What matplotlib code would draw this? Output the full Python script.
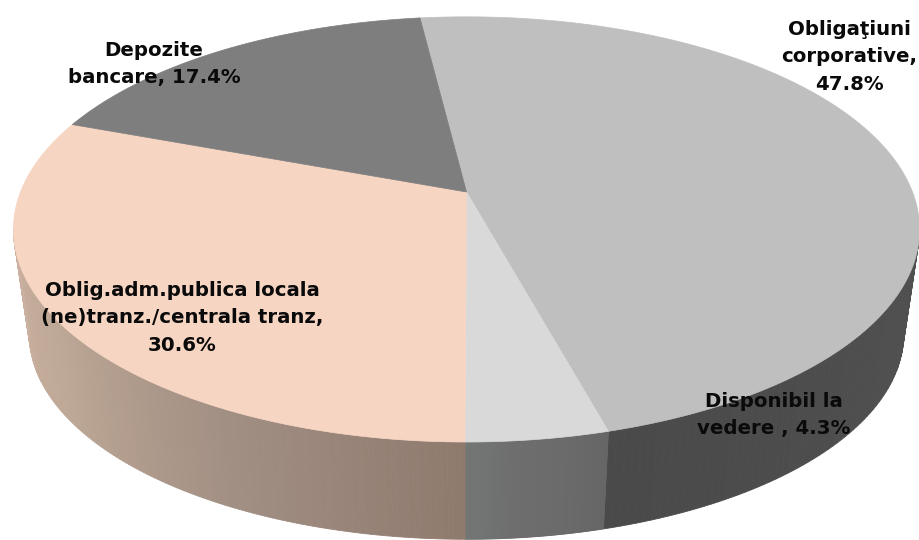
# 3D-look pie: top face is a circle pushed through a small perspective, wall is shaded strips
import numpy as np
import matplotlib
matplotlib.use("Agg")
import matplotlib.pyplot as plt
from matplotlib.colors import LinearSegmentedColormap

categories = ["Obligaţiuni\ncorporative,\n47.8%", "Disponibil la\nvedere , 4.3%",
              "Oblig.adm.publica locala\n(ne)tranz./centrala tranz,\n30.6%", "Depozite\nbancare, 17.4%"]
shares = [47.8, 4.3, 30.6, 17.4]
top_colors = ["#bfbfbf", "#d9d9d9", "#f7d5c3", "#7e7e7e"]
wall_colors = [["#4f4f4f", "#4d4d4d", "#505050", "#4a4a4a"],
               ["#666666", "#6b6b6b", "#6e6e6e", "#747676"],
               ["#8f7a6e", "#a39084", "#bda795", "#cdb2a2", "#c4a898"],
               ["#7e7e7e", "#7e7e7e"]]
label_xy = [(849, 57), (774, 415), (182, 318), (154, 64)]

# picture geometry, in pixels
CX, CY = 466.5, 192
A, B, K = 446, 206, 0.176   # K: rear of the disc is foreshortened
SCALE_LOW, DROP = 0.965, 106  # bottom rim of the wall
START = np.radians(90 + 7.4)  # first wedge starts just left of straight up


def rim(t):
    w = 1 + K * np.sin(t)
    return A * np.cos(t) / w, -B * np.sin(t) / w


fig = plt.figure(figsize=(9.19, 5.40), dpi=100)
ax = fig.add_axes([0, 0, 1, 1])
ax.set_xlim(0, 919); ax.set_ylim(540, 0); ax.axis("off")

edges = START - np.radians(np.cumsum([0] + shares) * 3.6)
for i in range(len(shares)):
    t = np.linspace(edges[i], edges[i + 1], 181)
    x, y = rim(t)
    cmap = LinearSegmentedColormap.from_list("wall", wall_colors[i])
    for j in range(len(t) - 1):
        if np.sin(t[j]) > -K and np.sin(t[j + 1]) > -K:   # back of the pie, hidden
            continue
        c = cmap(j / (len(t) - 2))
        qx = [CX + x[j], CX + x[j + 1], CX + SCALE_LOW * x[j + 1], CX + SCALE_LOW * x[j]]
        qy = [CY + y[j], CY + y[j + 1], CY + SCALE_LOW * y[j + 1] + DROP, CY + SCALE_LOW * y[j] + DROP]
        ax.fill(qx, qy, color=c, lw=0.6, zorder=1)

for i in range(len(shares)):
    t = np.linspace(edges[i], edges[i + 1], 181)
    x, y = rim(t)
    ax.fill(np.r_[CX, CX + x], np.r_[CY, CY + y], color=top_colors[i], lw=0.5, zorder=2)

for txt, (lx, ly) in zip(categories, label_xy):
    ax.text(lx, ly, txt, ha="center", va="center", fontsize=14.2, fontweight="bold",
            family="DejaVu Sans", color="#0a0a0a", linespacing=1.55, zorder=3)

fig.savefig("out.png", dpi=100)
